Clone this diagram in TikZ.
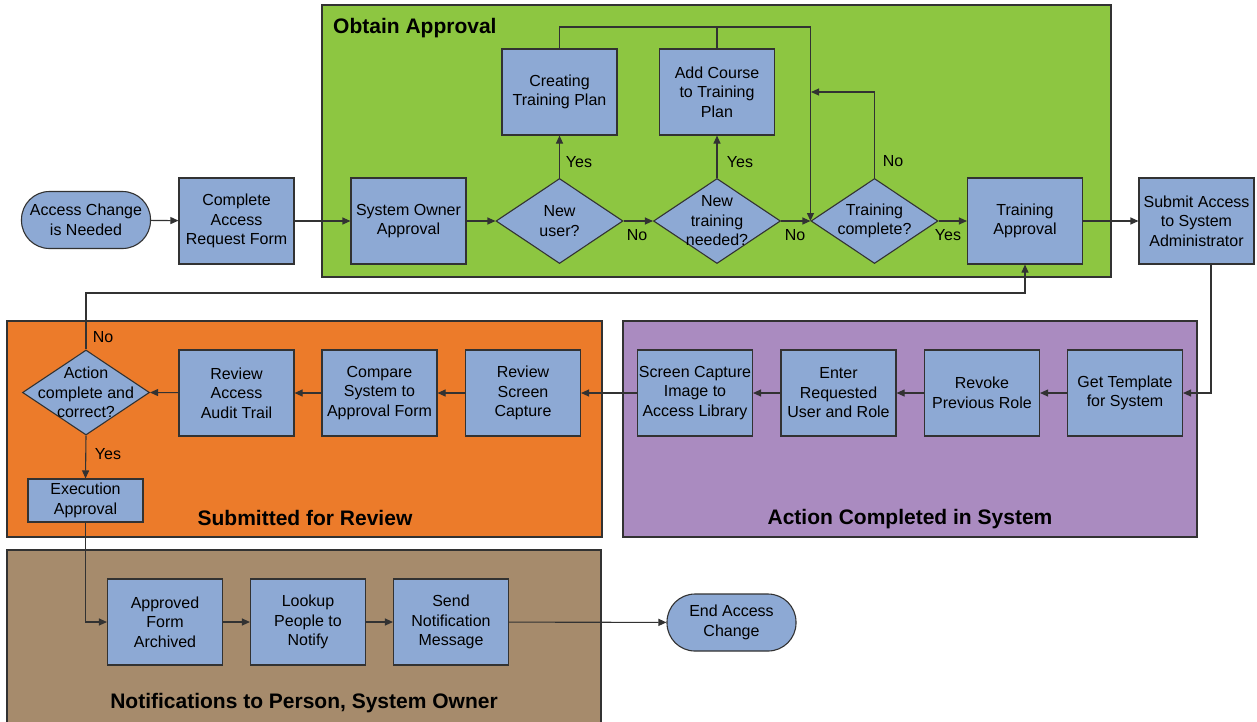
\documentclass[tikz,border=0pt]{standalone}
\usepackage{fontspec}
\setmainfont{Liberation Sans}
\usetikzlibrary{shapes.geometric,arrows.meta}
\definecolor{boxblue}{RGB}{141,169,212}
\definecolor{edge}{RGB}{50,50,50}
\definecolor{greenbg}{RGB}{141,198,65}
\definecolor{orangebg}{RGB}{236,123,42}
\definecolor{purplebg}{RGB}{170,139,192}
\definecolor{brownbg}{RGB}{166,139,108}
\newcommand\nodefnt{\fontsize{16}{19.5}\selectfont}
\newcommand\ttlfnt{\fontsize{21}{25}\selectfont\bfseries}
\begin{document}
\begin{tikzpicture}[x=1pt,y=-1pt,
  box/.style={draw=edge, fill=boxblue, line width=1.1pt, minimum width=115pt, minimum height=86pt, align=center, inner sep=0pt, font=\nodefnt},
  term/.style={draw=edge, fill=boxblue, line width=1.1pt, rounded corners=28pt, minimum width=129pt, minimum height=57pt, align=center, inner sep=0pt, font=\nodefnt},
  dia/.style={diamond, draw=edge, fill=boxblue, line width=1.1pt, minimum width=127pt, minimum height=85pt, inner sep=0pt},
  dtxt/.style={align=center, font=\nodefnt},
  lbl/.style={font=\nodefnt, inner sep=0pt},
  ttl/.style={font=\ttlfnt, inner sep=0pt},
  region/.style={draw=edge, line width=1.4pt},
  ln/.style={draw=edge, line width=1.1pt},
  arr/.style={-{Triangle[length=8pt,width=7pt]}}
]
\clip (0,0) rectangle (1257,721);
\fill[white] (0,0) rectangle (1257,721);

% regions
\draw[region, fill=greenbg] (322,5) rectangle (1111,277);
\draw[region, fill=orangebg] (7,321) rectangle (602,537);
\draw[region, fill=purplebg] (623,321) rectangle (1197,537);
\draw[region, fill=brownbg] (7,550) rectangle (601,730);

\node[ttl, anchor=west] (t1) at (333,28) {Obtain Approval};
\node[ttl] (t2) at (305,518) {Submitted for Review};
\node[ttl] (t3) at (910,519) {Action Completed in System};
\node[ttl] (t4) at (304,703) {Notifications to Person, System Owner};

% top row
\node[term] (acn) at (86,220) {Access Change\\is Needed};
\node[box] (carf) at (236.5,221) {Complete\\Access\\Request Form};
\node[box] (soa) at (408.5,221) {System Owner\\Approval};
\node[dia, label={[dtxt]center:New\\user?}] (nu) at (559.5,221) {};
\node[box] (ctp) at (559.5,92) {Creating\\Training Plan};
\node[dia, label={[dtxt]center:New\\training\\needed?}] (ntn) at (717,221) {};
\node[box] (act) at (717,92) {Add Course\\to Training\\Plan};
\node[dia, label={[dtxt]center:Training\\complete?}] (tc) at (874.5,221) {};
\node[box] (ta) at (1025,221) {Training\\Approval};
\node[box] (sa) at (1196.5,221) {Submit Access\\to System\\Administrator};

% middle row
\node[box] (gt) at (1125,393) {Get Template\\for System};
\node[box] (rpr) at (982,393) {Revoke\\Previous Role};
\node[box] (ert) at (838.5,393) {Enter\\Requested\\User and Role};
\node[box] (sci) at (695,393) {Screen Capture\\Image to\\Access Library};
\node[box] (rsc) at (523,393) {Review\\Screen\\Capture};
\node[box] (cmp) at (379.5,393) {Compare\\System to\\Approval Form};
\node[box] (raat) at (236.5,393) {Review\\Access\\Audit Trail};
\node[dia, label={[dtxt]center:Action\\complete and\\correct?}] (acc) at (86,392.5) {};
\node[box, minimum height=43pt] (ea) at (85.5,500.5) {Execution\\Approval};

% bottom row
\node[box] (afa) at (165,622) {Approved\\Form\\Archived};
\node[box] (lpn) at (308,622) {Lookup\\People to\\Notify};
\node[box] (snm) at (451,622) {Send\\Notification\\Message};
\node[term] (eac) at (731.5,622.5) {End Access\\Change};

% helper coordinates
\coordinate (lp) at (559.5,27);
\coordinate (nb) at (811,92);
\coordinate (fb) at (86,293);

% connectors
\draw[ln,arr] (acn) -- (carf);
\draw[ln,arr] (carf) -- (soa);
\draw[ln,arr] (soa) -- (nu);
\draw[ln,arr] (nu.north) -- (ctp.south);
\draw[ln,arr] (nu.east) -- (ntn.west);
\draw[ln,arr] (ntn.north) -- (act.south);
\draw[ln,arr] (ntn.east) -- (tc.west);
\draw[ln,arr] (ctp.north) -- (lp) -| (tc.west);
\draw[ln] (act.north) -- (act.north |- lp);
\draw[ln,arr] (tc.north) |- (nb);
\draw[ln,arr] (tc.east) -- (ta.west);
\draw[ln,arr] (ta) -- (sa);
\draw[ln,arr] ([xshift=14.5pt]sa.south) |- (gt.east);
\draw[ln,arr] (gt) -- (rpr);
\draw[ln,arr] (rpr) -- (ert);
\draw[ln,arr] (ert) -- (sci);
\draw[ln,arr] (sci) -- (rsc);
\draw[ln,arr] (rsc) -- (cmp);
\draw[ln,arr] (cmp) -- (raat);
\draw[ln,arr] (raat) -- (acc.east);
\draw[ln,arr] (acc.north) -- (fb) -| (ta.south);
\draw[ln,arr] (acc.south) -- (ea.north);
\draw[ln,arr] (ea.south) |- (afa.west);
\draw[ln,arr] (afa) -- (lpn);
\draw[ln,arr] (lpn) -- (snm);
\draw[ln,arr] (snm) -- (eac);

% labels
\node[lbl] (y1) at (579,162) {Yes};
\node[lbl] (y2) at (740,162) {Yes};
\node[lbl] (n1) at (637,235) {No};
\node[lbl] (n2) at (795,235) {No};
\node[lbl] (y3) at (948,235) {Yes};
\node[lbl] (n3) at (893,161) {No};
\node[lbl] (n4) at (103,337) {No};
\node[lbl] (y4) at (108,454) {Yes};
\end{tikzpicture}
\end{document}
